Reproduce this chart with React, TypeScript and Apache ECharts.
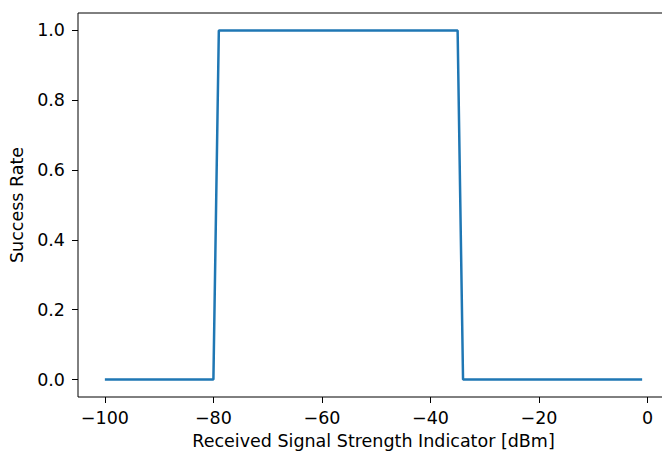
import React, { useEffect, useRef } from "react";
import * as echarts from "echarts";

const rssiPoints: number[] = [-100, -80, -79, -35, -34, -1];
const successRate: number[] = [0, 0, 1, 1, 0, 0];
const xTicks: number[] = [-100, -80, -60, -40, -20, 0];
const yTicks: number[] = [0, 0.2, 0.4, 0.6, 0.8, 1.0];
const xTitle = "Received Signal Strength Indicator [dBm]";
const yTitle = "Success Rate";

const FONT = "DejaVu Sans";
const FS = 17.5;

export default function App() {
  const ref = useRef<HTMLDivElement>(null);
  useEffect(() => {
    if (!ref.current) return;
    const chart = echarts.init(ref.current, null, { renderer: "svg" });
    chart.setOption({
      animation: false,
      backgroundColor: "#fff",
      grid: {
        left: 78,
        top: 13,
        width: 591,
        height: 384,
        containLabel: false,
        outerBoundsMode: "none",
        show: true,
        borderColor: "#000",
        borderWidth: 1,
        backgroundColor: "transparent",
      },
      xAxis: {
        type: "value",
        min: -104.95,
        max: 3.95,
        axisLine: { show: false, onZero: false },
        splitLine: { show: false },
        axisTick: {
          show: true,
          length: 6,
          customValues: xTicks,
          lineStyle: { color: "#000", width: 1 },
        },
        axisLabel: {
          customValues: xTicks,
          margin: 12,
          color: "#000",
          fontFamily: FONT,
          fontSize: FS,
          formatter: (v: number) => (v < 0 ? "\u2212" + Math.abs(v) : String(v)),
        },
        name: xTitle,
        nameLocation: "middle",
        nameGap: 35,
        nameTextStyle: { color: "#000", fontFamily: FONT, fontSize: FS, verticalAlign: "top" },
      },
      yAxis: {
        type: "value",
        min: -0.05,
        max: 1.05,
        axisLine: { show: false, onZero: false },
        splitLine: { show: false },
        axisTick: {
          show: true,
          length: 6,
          customValues: yTicks,
          lineStyle: { color: "#000", width: 1 },
        },
        axisLabel: {
          customValues: yTicks,
          margin: 13,
          color: "#000",
          fontFamily: FONT,
          fontSize: FS,
          formatter: (v: number) => v.toFixed(1),
        },
        name: yTitle,
        nameLocation: "middle",
        nameGap: 49,
        nameTextStyle: { color: "#000", fontFamily: FONT, fontSize: FS },
      },
      series: [
        {
          type: "line",
          data: rssiPoints.map((x, i) => [x, successRate[i]]),
          showSymbol: false,
          lineStyle: { color: "#1f77b4", width: 2.5 },
          itemStyle: { color: "#1f77b4" },
        },
      ],
    });
    return () => chart.dispose();
  }, []);
  return (
    <div
      ref={ref}
      style={{ position: "fixed", left: 0, top: 0, width: 662, height: 455 }}
    />
  );
}
